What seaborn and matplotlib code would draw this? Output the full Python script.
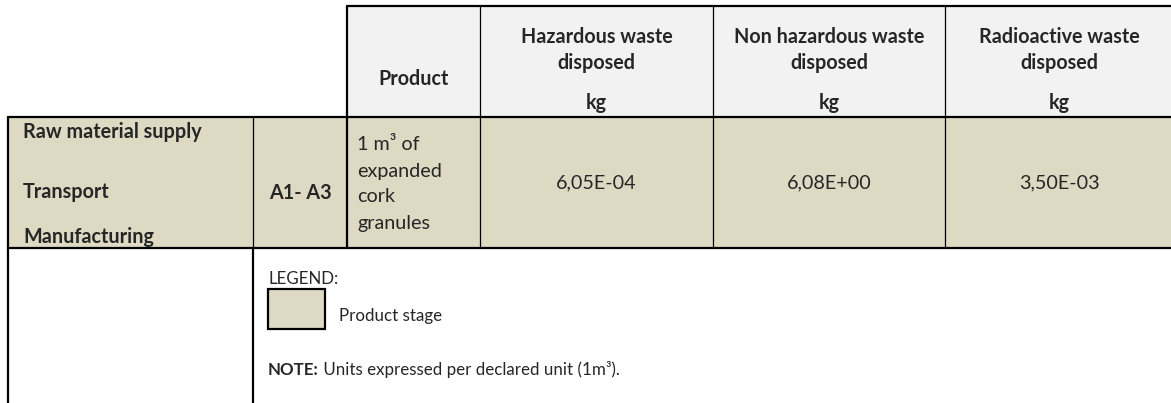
import matplotlib
matplotlib.use("Agg")
import matplotlib.pyplot as plt
from matplotlib.patches import Rectangle
import seaborn as sns

# ---------------- data ----------------
stages = ["Raw material supply", "Transport", "Manufacturing"]
module = "A1- A3"
product_lines = ["1 m\u00b3 of", "expanded", "cork", "granules"]
indicator_headers = [["Hazardous waste", "disposed"],
                     ["Non hazardous waste", "disposed"],
                     ["Radioactive waste", "disposed"]]
units = ["kg", "kg", "kg"]
values = ["6,05E-04", "6,08E+00", "3,50E-03"]
legend_label = "Product stage"
note_bold = "NOTE:"
note_text = " Units expressed per declared unit (1m\u00b3)."

# ---------------- style ----------------
sns.set_theme(style="white")
plt.rcParams["font.family"] = ["Lato", "DejaVu Sans"]

W, H = 1171, 403
fig = plt.figure(figsize=(W / 100, H / 100), dpi=100)
ax = fig.add_axes([0, 0, 1, 1])
ax.set_xlim(0, W)
ax.set_ylim(H, 0)
ax.axis("off")

BEIGE = "#ddd9c3"
GRAY = "#f2f2f2"
THICK = 1.6
THIN = 0.9

# layout (pixel grid)
xcols = [8, 253, 347, 480, 713, 945, W + 2]
y_top, y_head, y_row = 6, 117, 248

# header cells
ax.add_patch(Rectangle((xcols[2], y_top), xcols[-1] - xcols[2], y_head - y_top,
                       facecolor=GRAY, edgecolor="none", zorder=1))
# data row
ax.add_patch(Rectangle((xcols[0], y_head), xcols[-1] - xcols[0], y_row - y_head,
                       facecolor=BEIGE, edgecolor="none", zorder=1))

# lines
ax.plot([xcols[2], W], [y_top, y_top], color="black", lw=THICK, zorder=3)
ax.plot([xcols[0], W], [y_head, y_head], color="black", lw=THICK, zorder=3)
ax.plot([xcols[0], W], [y_row, y_row], color="black", lw=THICK, zorder=3)
ax.plot([xcols[2], xcols[2]], [y_top, y_row], color="black", lw=THICK, zorder=3)
for x in xcols[3:6]:
    ax.plot([x, x], [y_top, y_row], color="black", lw=THIN, zorder=3)
ax.plot([xcols[1], xcols[1]], [y_head, y_row], color="black", lw=THIN, zorder=3)
ax.plot([xcols[0], xcols[0]], [y_head, H], color="black", lw=THICK, zorder=3)
ax.plot([xcols[1], xcols[1]], [y_row, H], color="black", lw=THICK, zorder=3)

FS = 14.2
FS_SMALL = 12.2
# header texts
ax.text((xcols[2] + xcols[3]) / 2, 79, "Product", ha="center", va="center",
        fontsize=FS, fontweight="bold", zorder=4)
for i, (hdr, unit) in enumerate(zip(indicator_headers, units)):
    cx = (xcols[3 + i] + xcols[4 + i]) / 2
    ax.text(cx, 37, hdr[0], ha="center", va="center", fontsize=FS,
            fontweight="bold", zorder=4)
    ax.text(cx, 63, hdr[1], ha="center", va="center", fontsize=FS,
            fontweight="bold", zorder=4)
    ax.text(cx, 103, unit, ha="center", va="center", fontsize=FS,
            fontweight="bold", zorder=4)

# data row texts
for y, s in zip([132, 192, 237], stages):
    ax.text(23, y, s, ha="left", va="center", fontsize=FS, fontweight="bold", zorder=4)
ax.text((xcols[1] + xcols[2]) / 2, 193, module, ha="center", va="center",
        fontsize=FS, fontweight="bold", zorder=4)
for y, s in zip([144, 172, 197, 223], product_lines):
    ax.text(357, y, s, ha="left", va="center", fontsize=FS, zorder=4)
for i, v in enumerate(values):
    cx = (xcols[3 + i] + xcols[4 + i]) / 2
    ax.text(cx, 183, v, ha="center", va="center", fontsize=FS, zorder=4)

# legend area
ax.text(268, 279, "LEGEND:", ha="left", va="center", fontsize=FS_SMALL, zorder=4)
ax.add_patch(Rectangle((268, 289), 57, 40, facecolor=BEIGE, edgecolor="black",
                       lw=THICK, zorder=4))
ax.text(339, 316, legend_label, ha="left", va="center", fontsize=FS_SMALL, zorder=4)
t = ax.text(268, 370, note_bold, ha="left", va="center", fontsize=FS_SMALL,
            fontweight="bold", zorder=4)
fig.canvas.draw()
bb = t.get_window_extent(renderer=fig.canvas.get_renderer())
x_end = ax.transData.inverted().transform((bb.x1, bb.y0))[0]
ax.text(x_end, 370, note_text, ha="left", va="center", fontsize=FS_SMALL, zorder=4)

fig.savefig("out.png", dpi=100)
